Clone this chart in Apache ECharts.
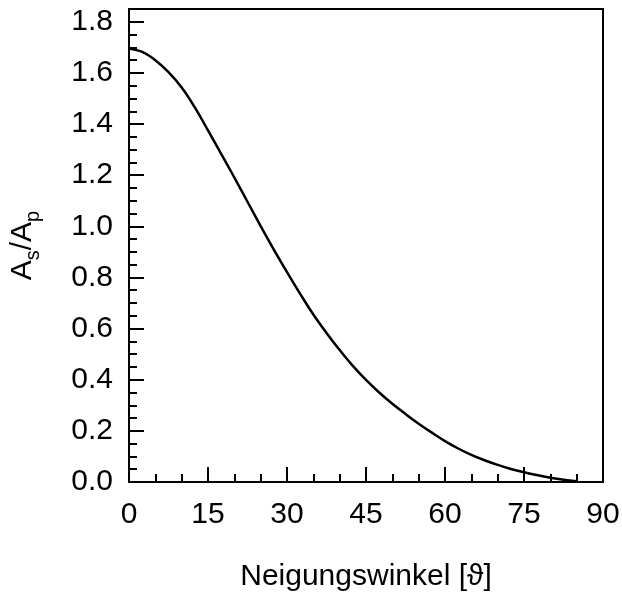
<!DOCTYPE html>
<html>
<head>
<meta charset="utf-8">
<script src="https://cdn.jsdelivr.net/npm/echarts@6/dist/echarts.min.js"></script>
<style>
html,body{margin:0;padding:0;background:#fff;}
#chart{width:622px;height:593px;}
</style>
</head>
<body>
<div id="chart"></div>
<script>
// Data
var angles = [0, 2.5, 5, 7.5, 10, 12.5, 15, 17.5, 20, 22.5, 25, 27.5, 30, 32.5, 35, 37.5, 40, 42.5, 45, 47.5, 50, 52.5, 55, 57.5, 60, 62.5, 65, 67.5, 70, 72.5, 75, 77.5, 80, 82.5, 85];
var ratio  = [1.695, 1.682, 1.650, 1.603, 1.543, 1.465, 1.375, 1.283, 1.191, 1.096, 1.001, 0.909, 0.821, 0.736, 0.655, 0.583, 0.516, 0.454, 0.399, 0.350, 0.306, 0.266, 0.228, 0.193, 0.160, 0.131, 0.106, 0.085, 0.067, 0.051, 0.038, 0.027, 0.017, 0.009, 0.003];
var xTicks = [0, 15, 30, 45, 60, 75, 90];
var yTicks = [0.0, 0.2, 0.4, 0.6, 0.8, 1.0, 1.2, 1.4, 1.6, 1.8];

var font = "'Liberation Sans', Arial, Helvetica, sans-serif";
var points = angles.map(function (a, i) { return [a, ratio[i]]; });

var chart = echarts.init(document.getElementById('chart'));
chart.setOption({
  animation: false,
  grid: {
    left: 129, right: 19, top: 9, bottom: 111,
    show: true, borderColor: '#000', borderWidth: 2,
    outerBoundsMode: 'none'
  },
  xAxis: {
    type: 'value', min: 0, max: 90, interval: 15,
    axisLine: { show: true, lineStyle: { color: '#000', width: 2 } },
    axisTick: { show: true, inside: true, length: 15, lineStyle: { color: '#000', width: 2 } },
    minorTick: { show: true, splitNumber: 3, length: 8, lineStyle: { color: '#000', width: 2 } },
    splitLine: { show: false },
    axisLabel: {
      margin: 18, color: '#000', fontFamily: font, fontSize: 30,
      formatter: function (v) { return xTicks.indexOf(v) >= 0 ? String(v) : ''; }
    },
    name: 'Neigungswinkel [ϑ]', nameLocation: 'middle', nameGap: 80,
    nameTextStyle: { color: '#000', fontFamily: font, fontSize: 30 }
  },
  yAxis: [{
    type: 'value', min: 0, max: 1.85, interval: 0.2,
    axisLine: { show: true, lineStyle: { color: '#000', width: 2 } },
    axisTick: { show: true, inside: true, length: 15, lineStyle: { color: '#000', width: 2 } },
    splitLine: { show: false },
    axisLabel: {
      margin: 16, color: '#000', fontFamily: font, fontSize: 30,
      formatter: function (v) {
        for (var i = 0; i < yTicks.length; i++) {
          if (Math.abs(yTicks[i] - v) < 1e-6) return yTicks[i].toFixed(1);
        }
        return '';
      }
    },
    name: '{a|A}{s|s}{a|/A}{s|p}', nameLocation: 'middle', nameGap: 86,
    nameTextStyle: {
      color: '#000', fontFamily: font, fontSize: 30,
      rich: {
        a: { fontFamily: font, fontSize: 30, color: '#000', lineHeight: 40, verticalAlign: 'middle' },
        s: { fontFamily: font, fontSize: 20, color: '#000', lineHeight: 40, verticalAlign: 'bottom' }
      }
    }
  }, {
    type: 'value', min: 0, max: 1.85, interval: 0.05, position: 'left',
    axisLine: { show: false },
    axisTick: { show: true, inside: true, length: 8, lineStyle: { color: '#000', width: 2 } },
    axisLabel: { show: false },
    splitLine: { show: false }
  }],
  series: [{
    type: 'line', xAxisIndex: 0, yAxisIndex: 0,
    data: points, showSymbol: false, smooth: 0.4,
    lineStyle: { color: '#000', width: 2.5 }
  }]
});
</script>
</body>
</html>
